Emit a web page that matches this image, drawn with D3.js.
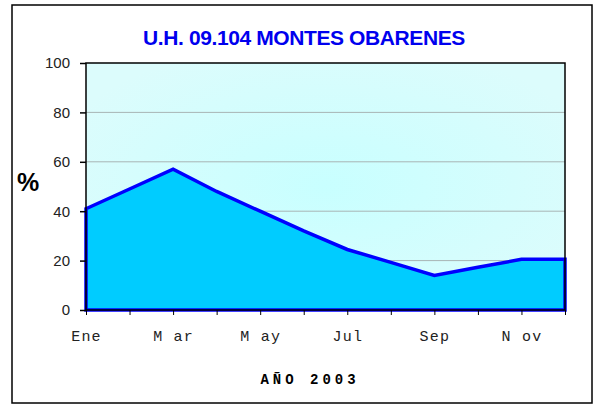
<!DOCTYPE html>
<html>
<head>
<meta charset="utf-8">
<script src="https://cdn.jsdelivr.net/npm/d3@7"></script>
<style>
  body { margin: 0; background: #fff; }
</style>
</head>
<body>
<script>
const months = ["Ene", "Feb", "Mar", "Abr", "May", "Jun", "Jul", "Ago", "Sep", "Oct", "Nov", "Dic"];
const monthLabels = ["Ene", "", "M ar", "", "M ay", "", "Jul", "", "Sep", "", "N ov", ""];
const values = [41, 49, 57, 48, 40, 32, 24.5, 19.3, 14, 17.3, 20.5, 20.5];
const yTicks = [0, 20, 40, 60, 80, 100];

const W = 594, H = 407;
const m = { left: 86, right: 565, top: 63, bottom: 310 };

const svg = d3.select("body").append("svg")
    .attr("width", W)
    .attr("height", H);

// outer frame
svg.append("rect")
    .attr("x", 12).attr("y", 5)
    .attr("width", 580).attr("height", 398)
    .attr("fill", "#fff")
    .attr("stroke", "#000")
    .attr("stroke-width", 1.5);

const x = d3.scalePoint().domain(months).range([m.left, m.right]);
const y = d3.scaleLinear().domain([0, 100]).range([m.bottom, m.top]);

// plot background, light cyan radial gradient
const grad = svg.append("defs").append("radialGradient")
    .attr("id", "bg").attr("cx", "50%").attr("cy", "50%").attr("r", "60%");
grad.append("stop").attr("offset", "0%").attr("stop-color", "#c8ffff");
grad.append("stop").attr("offset", "100%").attr("stop-color", "#dcfcfc");

svg.append("rect")
    .attr("x", m.left).attr("y", m.top)
    .attr("width", m.right - m.left).attr("height", m.bottom - m.top)
    .attr("fill", "url(#bg)");

// gridlines
svg.append("g")
    .selectAll("line")
    .data(yTicks.filter(d => d > 0 && d < 100))
    .join("line")
    .attr("x1", m.left).attr("x2", m.right)
    .attr("y1", d => y(d)).attr("y2", d => y(d))
    .attr("stroke", "#a8b4b4")
    .attr("stroke-width", 1);

// area + line
const area = d3.area()
    .x((d, i) => x(months[i]))
    .y0(y(0))
    .y1(d => y(d));

svg.append("path")
    .datum(values)
    .attr("d", area)
    .attr("fill", "#00ccff")
    .attr("stroke", "#0000ff")
    .attr("stroke-width", 3.5)
    .attr("stroke-linejoin", "miter");

// plot border
svg.append("rect")
    .attr("x", m.left).attr("y", m.top)
    .attr("width", m.right - m.left).attr("height", m.bottom - m.top)
    .attr("fill", "none")
    .attr("stroke", "#000")
    .attr("stroke-width", 1.5);

// y axis
const yAxis = svg.append("g")
    .attr("transform", `translate(${m.left},0)`)
    .call(d3.axisLeft(y).tickValues(yTicks).tickSize(6).tickPadding(10));
yAxis.select(".domain").remove();
yAxis.selectAll("line").attr("stroke", "#000").attr("stroke-width", 1.5);
yAxis.selectAll("text")
    .attr("font-family", "Liberation Sans, Arial, sans-serif")
    .attr("font-size", 15)
    .attr("fill", "#222");

// x axis
const xAxis = svg.append("g")
    .attr("transform", `translate(0,${m.bottom})`)
    .call(d3.axisBottom(x).tickSize(5).tickPadding(15).tickFormat((d, i) => monthLabels[i]));
xAxis.select(".domain").remove();
xAxis.selectAll("line").attr("stroke", "#000").attr("stroke-width", 1);
xAxis.selectAll("text")
    .attr("font-family", "Courier New, Liberation Mono, monospace")
    .attr("font-size", 15)
    .attr("letter-spacing", 1.2)
    .attr("fill", "#222")
    .style("white-space", "pre");

// title
svg.append("text")
    .attr("x", 304).attr("y", 45)
    .attr("text-anchor", "middle")
    .attr("font-family", "Liberation Sans, Arial, sans-serif")
    .attr("font-weight", "bold")
    .attr("font-size", 21)
    .attr("letter-spacing", -0.4)
    .attr("fill", "#0000ee")
    .text("U.H. 09.104 MONTES OBARENES");

// y label
svg.append("text")
    .attr("x", 28).attr("y", 191)
    .attr("text-anchor", "middle")
    .attr("font-family", "Liberation Sans, Arial, sans-serif")
    .attr("font-weight", "bold")
    .attr("font-size", 25)
    .text("%");

// x label
svg.append("text")
    .attr("x", 310).attr("y", 384)
    .attr("text-anchor", "middle")
    .attr("font-family", "Courier New, Liberation Mono, monospace")
    .attr("font-weight", "bold")
    .attr("font-size", 14)
    .attr("letter-spacing", 4)
    .text("AÑO 2003");
</script>
</body>
</html>
